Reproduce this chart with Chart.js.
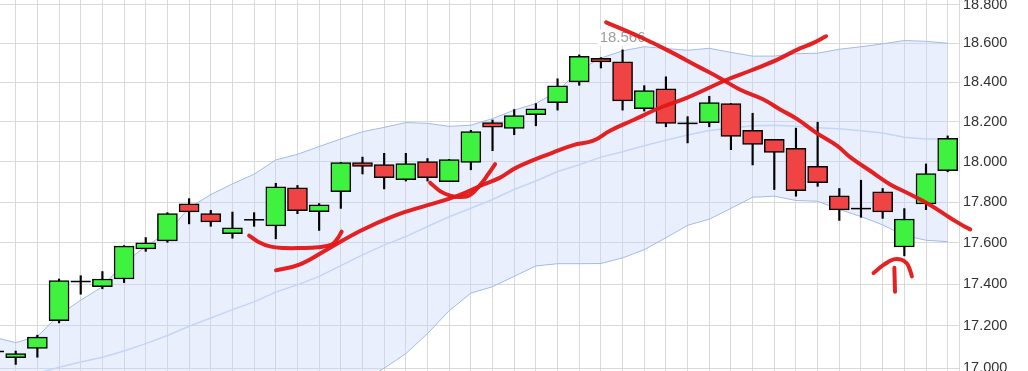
<!DOCTYPE html>
<html><head><meta charset="utf-8">
<script src="https://cdn.jsdelivr.net/npm/chart.js@4.4.1/dist/chart.umd.min.js"></script>
<style>html,body{margin:0;padding:0;background:#fff;overflow:hidden}#wrap{width:1028px;height:371px;position:relative}</style>
</head><body><div id="wrap"><canvas id="c"></canvas></div>
<script>
// candle positions (session index)
const candleIndex = [-1,0,1,2,3,4,5,6,7,8,9,10,11,12,13,14,15,16,17,18,19,20,21,22,23,24,25,26,27,28,29,30,31,32,33,34,35,36,37,38,39,40,41,42,43];
const opens  = [17.079,17.050,17.093,17.225,17.413,17.388,17.425,17.571,17.610,17.791,17.743,17.645,17.713,17.683,17.870,17.753,17.851,17.996,17.986,17.911,18.001,17.901,17.996,18.196,18.167,18.236,18.297,18.402,18.523,18.504,18.266,18.367,18.192,18.196,18.292,18.157,18.112,18.067,17.977,17.831,17.768,17.851,17.580,17.791,17.955];
const highs  = [17.090,17.081,17.156,17.425,17.441,17.461,17.587,17.626,17.748,17.817,17.759,17.751,17.748,17.893,17.882,17.793,17.996,18.023,18.042,18.042,18.016,18.011,18.157,18.209,18.262,18.292,18.418,18.540,18.526,18.566,18.383,18.428,18.226,18.329,18.292,18.243,18.112,18.168,18.198,17.867,17.908,17.867,17.768,17.989,18.129];
const lows   = [17.068,17.018,17.052,17.215,17.352,17.378,17.408,17.559,17.603,17.693,17.681,17.623,17.681,17.620,17.743,17.661,17.769,17.939,17.865,17.904,17.904,17.901,17.960,18.055,18.135,18.180,18.259,18.385,18.473,18.259,18.254,18.175,18.094,18.175,18.060,17.984,17.862,17.829,17.878,17.710,17.725,17.720,17.537,17.763,17.950];
const closes = [17.079,17.069,17.147,17.418,17.413,17.425,17.584,17.600,17.743,17.752,17.703,17.674,17.713,17.875,17.758,17.786,17.996,17.976,17.921,17.991,17.921,18.011,18.151,18.173,18.231,18.266,18.382,18.533,18.504,18.306,18.358,18.192,18.192,18.297,18.127,18.087,18.047,17.856,17.896,17.762,17.768,17.752,17.717,17.941,18.117];

// Bollinger bands
const bandUpper  = [17.146,17.121,17.150,17.253,17.323,17.388,17.503,17.583,17.650,17.771,17.837,17.890,17.938,18.009,18.037,18.076,18.114,18.150,18.172,18.196,18.192,18.177,18.183,18.216,18.259,18.292,18.354,18.463,18.524,18.561,18.582,18.573,18.564,18.574,18.553,18.534,18.534,18.546,18.549,18.569,18.582,18.597,18.614,18.610,18.600];
const bandMiddle = [16.930,16.950,16.976,17.005,17.029,17.052,17.081,17.116,17.155,17.199,17.238,17.278,17.315,17.362,17.397,17.438,17.490,17.542,17.589,17.631,17.680,17.728,17.770,17.813,17.862,17.904,17.951,17.985,18.023,18.050,18.080,18.108,18.134,18.156,18.168,18.180,18.183,18.177,18.170,18.165,18.155,18.144,18.122,18.114,18.114];
const bandLower  = [16.70,16.76,16.78,16.74,16.71,16.70,16.64,16.64,16.65,16.62,16.63,16.66,16.69,16.72,16.76,16.80,16.87,16.94,17.000,17.069,17.164,17.273,17.357,17.388,17.438,17.488,17.499,17.499,17.500,17.527,17.567,17.625,17.686,17.716,17.769,17.824,17.829,17.808,17.804,17.764,17.729,17.688,17.636,17.613,17.606];

// price axis ticks
const yTicks = [17.0,17.2,17.4,17.6,17.8,18.0,18.2,18.4,18.6,18.8];

// hand-drawn pen strokes (x in session index, y in price)
const stroke1X = [10.77,11.18,11.73,12.43,13.12,13.95,14.58,14.84,15.04];
const stroke1Y = [17.636,17.606,17.583,17.575,17.575,17.579,17.592,17.620,17.655];
const stroke2X = [12.01,13.12,14.35,15.89,17.43,18.97,20.35,21.58,22.35,23.12,24.81,25.73,26.65,27.42,28.50,29.73,30.96,32.81,33.89,35.12,36.04,36.81,37.39];
const stroke2Y = [17.467,17.496,17.567,17.658,17.731,17.784,17.829,17.887,17.921,17.972,18.047,18.083,18.105,18.155,18.209,18.271,18.321,18.413,18.459,18.515,18.566,18.602,18.636];
const stroke3X = [19.12,19.58,20.04,20.50,20.96,21.43,21.80,22.12];
const stroke3Y = [17.896,17.854,17.832,17.825,17.835,17.885,17.938,17.988];
const stroke4X = [27.24,28.81,30.04,31.58,32.50,33.43,34.50,35.27,36.04,36.96,37.89,38.50,39.42,40.35,41.12,42.19,43.12,44.04,44.96];
const stroke4Y = [18.708,18.632,18.566,18.475,18.421,18.362,18.313,18.262,18.215,18.143,18.080,18.023,17.955,17.887,17.846,17.786,17.722,17.666,17.636];
const stroke5X = [39.58,40.04,40.50,40.86,41.12,41.25,41.35];
const stroke5Y = [17.454,17.493,17.520,17.519,17.500,17.471,17.438];
const stroke6X = [40.54,40.57];
const stroke6Y = [17.479,17.364];

const GREEN = '#3ff23f', RED = '#f04444', PEN = 'rgba(228,22,22,0.95)';
const GRID = '#d9d9d9';

const wickData = [], bodyData = [], dojiData = [];
candleIndex.forEach((k, i) => {
  wickData.push({x: k, y: [lows[i], highs[i]]});
  if (opens[i] === closes[i]) dojiData.push({x: k, y: opens[i]});
  else bodyData.push({x: k, y: [opens[i], closes[i]]});
});
const bandPts = arr => candleIndex.map((k, i) => ({x: k, y: arr[i]}));
const strokePts = (xs, ys) => xs.map((x, i) => ({x: x, y: ys[i]}));
const penSet = (xs, ys) => ({type: 'line', data: strokePts(xs, ys), borderColor: PEN, borderWidth: 4,
  pointRadius: 0, tension: 0.4, fill: false, clip: false, borderCapStyle: 'round', borderJoinStyle: 'round', order: 1});

const maxLabel = {
  id: 'maxLabel',
  afterDatasetDraw(chart, args) {
    if (chart.data.datasets[args.index].label !== 'doji') return;
    let mi = 0;
    highs.forEach((h, i) => { if (h > highs[mi]) mi = i; });
    const {ctx, scales: {x, y}} = chart;
    const px = x.getPixelForValue(candleIndex[mi]);
    const py = y.getPixelForValue(highs[mi]) - 12;
    const txt = highs[mi].toFixed(3);
    ctx.save();
    ctx.font = '15px "Liberation Sans", Arial, sans-serif';
    const w = ctx.measureText(txt).width;
    ctx.fillStyle = '#ffffff';
    ctx.fillRect(px - w / 2 - 2, py - 8, w + 4, 16);
    ctx.fillStyle = '#9d9d9d';
    ctx.textAlign = 'center';
    ctx.textBaseline = 'middle';
    ctx.fillText(txt, px, py);
    ctx.restore();
  }
};

new Chart(document.getElementById('c'), {
  type: 'bar',
  data: {
    datasets: [
      {type: 'line', label: 'upper', data: bandPts(bandUpper), borderColor: '#a3bbe6', borderWidth: 1,
       pointRadius: 0, tension: 0, fill: '+2', backgroundColor: 'rgba(196,214,247,0.38)', order: 10},
      {type: 'line', label: 'middle', data: bandPts(bandMiddle), borderColor: '#c3d6f8', borderWidth: 1.5,
       pointRadius: 0, tension: 0, fill: false, order: 9},
      {type: 'line', label: 'lower', data: bandPts(bandLower), borderColor: '#a3bbe6', borderWidth: 1,
       pointRadius: 0, tension: 0, fill: false, order: 9},
      {type: 'bar', label: 'wick', data: wickData, backgroundColor: '#000', borderWidth: 0,
       barThickness: 1.5, grouped: false, order: 6},
      {type: 'bar', label: 'body', data: bodyData,
       backgroundColor: c => (c.raw && c.raw.y[1] >= c.raw.y[0]) ? GREEN : RED,
       borderColor: '#000', borderWidth: 1.5, borderSkipped: false, barThickness: 20, grouped: false, order: 5},
      {type: 'line', label: 'doji', data: dojiData, showLine: false, pointStyle: 'line', pointRadius: 10,
       pointBorderWidth: 1.5, pointBorderColor: '#000', order: 4},
      penSet(stroke1X, stroke1Y),
      penSet(stroke2X, stroke2Y),
      penSet(stroke3X, stroke3Y),
      penSet(stroke4X, stroke4Y),
      penSet(stroke5X, stroke5Y),
      penSet(stroke6X, stroke6Y)
    ]
  },
  options: {
    responsive: true, maintainAspectRatio: false, animation: false, devicePixelRatio: 1, events: [],
    layout: {padding: 0, autoPadding: false},
    plugins: {legend: {display: false}, tooltip: {enabled: false}},
    scales: {
      x: {
        type: 'linear', min: -0.7244, max: 43.522, offset: false,
        afterBuildTicks: a => { a.ticks = candleIndex.filter(k => k >= 0).map(v => ({value: v})); },
        afterFit: s => { s.height = 0; s.paddingLeft = 0; s.paddingRight = 0; },
        grid: {color: GRID, lineWidth: 1, drawTicks: false, offset: false},
        border: {display: false},
        ticks: {display: false, autoSkip: false}
      },
      y: {
        type: 'logarithmic', position: 'right', min: 16.987, max: 18.824,
        afterBuildTicks: a => { a.ticks = yTicks.map(v => ({value: v})); },
        afterFit: s => { s.width = 69; s.paddingTop = 0; s.paddingBottom = 0; },
        grid: {color: GRID, lineWidth: 1, drawTicks: false},
        border: {color: GRID, width: 1},
        ticks: {padding: 4, color: '#333', autoSkip: false,
          font: {family: '"Liberation Sans", Arial, sans-serif', size: 14.5},
          callback: v => Number(v).toFixed(3)}
      }
    }
  },
  plugins: [maxLabel]
});
</script></body></html>
